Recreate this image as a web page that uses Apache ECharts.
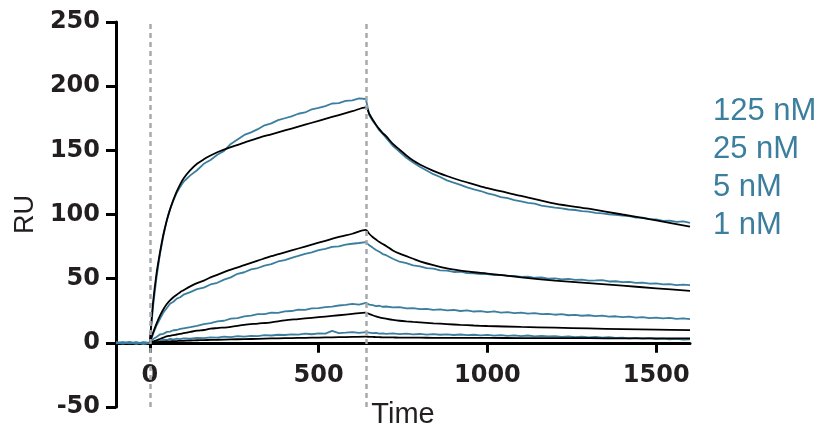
<!DOCTYPE html>
<html>
<head>
<meta charset="utf-8">
<script src="https://cdn.jsdelivr.net/npm/echarts@6/dist/echarts.min.js"></script>
<style>
  html, body { margin: 0; padding: 0; background: #fff; }
  #chart { width: 823px; height: 430px; }
</style>
</head>
<body>
<div id="chart"></div>
<script>
// concentrations shown in the legend
var concentrations = ['125 nM', '25 nM', '5 nM', '1 nM'];
var xTicks = [0, 500, 1000, 1500];
var injectionMarks = [0, 640];

// sensor data (RU), sampled time
var T = [-100,-80,-60,-40,-20,0,10,20,30,40,50,60,70,80,90,100,
  120,140,160,180,200,220,240,260,280,300,320,340,360,380,400,420,440,460,480,500,520,540,560,580,600,620,640,
  650,660,670,680,690,700,
  720,740,760,780,800,820,840,860,880,900,920,940,960,980,1000,1020,1040,1060,1080,1100,1120,1140,1160,1180,1200,
  1220,1240,1260,1280,1300,1320,1340,1360,1380,1400,1420,1440,1460,1480,1500,1520,1540,1560,1580,1600];

var ru125 = [0.4,-0.6,0.3,-0.8,0.5,0,29,51,69,83,95,104,111,117,121.5,125.5,
  130.5,134.5,139.5,142.5,146.5,149.5,155,158.5,162,164,166.5,169.5,171,173.5,175,176.5,178.5,179.5,182,183,184.5,186.5,186.8,188.5,189,190.5,190,
  177.5,173,169.5,165.5,162.8,159.7,
  153.5,148.8,144.2,140.5,137.2,134.3,131.4,129.2,126.6,124.8,123.1,121.2,119.6,118.3,116.4,115.3,113.6,112.7,111.2,110.3,109.1,108.4,106.9,106.2,105.3,
  104.8,103.9,103.5,102.6,102.2,101.3,100.9,100.2,99.8,99.1,98.7,97.6,97.5,96.4,96.2,95.1,95.3,94.2,94.6,93.4];

var ru25 = [-0.3,0.6,-0.5,0.2,-0.9,0,7,13.5,18.5,23.5,27,30.5,32,34.5,35.5,37.5,
  39.5,41.8,43,45.5,46.8,49.2,51,53.8,55,57.2,58.3,60.2,61.3,63.4,64.5,66.2,67.7,69.3,70.5,72.3,73.2,74.8,75.2,76.6,77.2,77.8,78.5,
  76,74.2,72.3,71,69.2,68.3,
  65.5,63.2,62.1,60.4,59.6,58.2,57.8,56.5,56.3,55.2,55.4,54.3,54.2,53.5,53.6,52.8,53.0,52.1,52.2,51.4,51.5,50.7,50.9,50.1,50.3,
  49.5,49.8,49.0,49.2,48.4,48.6,48.9,47.8,48.0,47.3,47.5,46.7,46.9,46.1,46.3,45.5,45.8,44.9,45.3,45.0];

var ru5 = [0.5,-0.2,0.7,-0.6,0.1,0,3,4.5,6.5,7,8.5,8.8,9.8,10,10.8,11.3,
  12.2,13.3,14.6,15.3,16.7,17.2,18.8,19.3,20.6,21.2,22.3,22.4,23.5,23.4,24.5,24.8,25.9,25.7,26.8,27,27.9,28.2,29.1,29.5,30.4,29.8,31.2,
  29.8,29.4,28.6,28.9,28.1,28.3,
  27.6,27.9,26.8,27.1,26.2,26.5,25.7,26.0,25.3,25.6,24.8,25.3,24.4,24.7,24.0,24.5,23.6,23.9,23.2,23.5,22.7,23.2,22.3,22.6,21.9,
  22.3,21.5,21.8,21.1,21.5,20.8,21.2,20.4,20.7,20.0,20.5,19.7,20.0,19.3,19.7,19.0,19.4,18.6,19.0,18.5];

var ru1 = [-0.4,0.3,-0.2,0.6,-0.7,0,0.8,1.6,1.4,2.4,2.2,3,2.6,3.3,2.9,3.4,
  3.3,3.9,3.6,4.3,4.1,4.8,4.4,5.2,4.9,5.5,5.3,6.0,5.7,6.3,6.1,6.6,6.4,7.1,6.7,7.4,7.2,9.3,7.6,7.9,8.4,7.8,8.3,
  7.9,7.5,7.8,7.2,7.4,7.0,
  7.3,6.8,7.1,6.6,6.9,6.4,6.8,6.3,6.6,6.1,6.5,6.0,6.3,5.8,6.2,5.6,6.0,5.5,5.8,5.3,5.7,5.1,5.5,5.0,5.3,
  4.7,5.1,4.5,4.8,4.3,4.6,4.0,4.4,3.8,4.1,3.5,3.9,3.2,3.6,3.0,3.3,2.7,3.1,2.5,2.8];

// fitted curves (RU)
var TF = [0,10,20,30,40,50,60,70,80,90,100,120,140,160,180,200,240,280,320,360,400,440,480,520,560,600,640,
  650,660,670,680,690,700,720,740,760,780,800,840,880,920,960,1000,1100,1200,1300,1400,1500,1600];

var fit125 = [0,32,54,70,84,95,104,111.5,118,123.5,128,134.5,139.5,143,146,148.5,152.5,156,159.5,162.5,165.5,168.5,171.5,174.5,177.5,180.5,183.5,
  178.5,174,170,166.5,163.5,161,155,150.5,146,142,139,134,130,126.5,123.5,120.5,114.5,108.5,104.5,100,95.5,90.5];
var fit25 = [0,8,15,21,26,30,33,35.5,37.5,39.5,41,44,46.5,48.5,51,53,57,60.5,64,67.5,70.5,73.5,76.5,79.5,82.5,85,88,
  85,82.5,80.5,78.5,77,75.5,72,69.5,67.5,65.5,63.5,60.5,58,56.3,55,54,51,48.5,46.5,44.5,42.5,40.5];
var fit5 = [0,1,2,3,4,5,5.5,6,6.5,7,7.5,8.5,9.5,10,11,11.5,12.5,14,15,16,17.5,18.5,19.5,20.5,21.5,22.5,23.5,
  22.5,21.5,20.6,19.9,19.3,18.8,17.9,17.2,16.7,16.3,16,15.2,14.6,14,13.5,13.1,12.4,11.8,11.2,10.7,10.3,9.9];
var fit1 = [0,0.3,0.5,0.7,0.9,1.1,1.2,1.3,1.4,1.5,1.6,1.8,2.0,2.1,2.3,2.4,2.7,2.9,3.1,3.4,3.6,3.8,4.0,4.2,4.4,4.6,4.8,
  4.7,4.6,4.5,4.4,4.3,4.3,4.2,4.1,4.1,4.0,4.0,3.9,3.9,3.8,3.8,3.8,3.7,3.6,3.6,3.5,3.5,3.4];

var blue = '#3b7e9e';
var ink = '#231f20';

function pairs(xs, ys) {
  return xs.map(function (x, i) { return [x, ys[i]]; });
}

var dataSets = [ru125, ru25, ru5, ru1];
var fitSets = [fit125, fit25, fit5, fit1];

var series = [];
dataSets.forEach(function (ys, i) {
  var s = {
    name: concentrations[i],
    type: 'line',
    data: pairs(T, ys),
    showSymbol: false,
    lineStyle: { color: blue, width: 1.8 },
    itemStyle: { color: blue },
    z: 2
  };
  if (i === 0) {
    // injection start / end
    s.markLine = {
      silent: true,
      symbol: 'none',
      label: { show: false },
      lineStyle: { color: '#a7a9ac', width: 2.5, type: [5, 4] },
      data: injectionMarks.map(function (v) { return { xAxis: v }; })
    };
  }
  series.push(s);
});
fitSets.forEach(function (ys, i) {
  series.push({
    name: 'fit ' + concentrations[i],
    type: 'line',
    data: pairs(TF, ys),
    showSymbol: false,
    smooth: 0.3,
    lineStyle: { color: '#000', width: 1.8 },
    itemStyle: { color: '#000' },
    z: 3
  });
});

var chart = echarts.init(document.getElementById('chart'), null, { renderer: 'canvas' });
chart.setOption({
  animation: false,
  backgroundColor: '#fff',
  grid: { left: 116, right: 133, top: 22, bottom: 23, outerBoundsMode: 'none', containLabel: false },
  legend: {
    data: concentrations,
    orient: 'vertical',
    left: 703,
    top: 91,
    icon: 'none',
    itemWidth: 0,
    itemGap: 7,
    selectedMode: false,
    textStyle: { color: blue, fontSize: 31, fontFamily: 'Liberation Sans' }
  },
  xAxis: {
    type: 'value',
    min: -100,
    max: 1600,
    interval: 100,
    name: 'Time',
    nameLocation: 'middle',
    nameGap: -7,
    nameTextStyle: { color: ink, fontSize: 29, fontFamily: 'Liberation Sans' },
    axisLine: { onZero: true, lineStyle: { color: '#000', width: 3 } },
    axisTick: { customValues: xTicks, length: 10, lineStyle: { color: '#000', width: 3 } },
    axisLabel: {
      customValues: xTicks,
      formatter: function (v) { return String(v); },
      margin: -43,
      color: ink,
      fontSize: 24,
      fontWeight: 'bold',
      fontFamily: 'DejaVu Sans'
    },
    splitLine: { show: false }
  },
  yAxis: {
    type: 'value',
    min: -50,
    max: 250,
    interval: 50,
    name: 'RU',
    nameLocation: 'middle',
    nameGap: 68,
    nameTextStyle: { color: ink, fontSize: 27, fontFamily: 'Liberation Sans' },
    axisLine: { show: true, onZero: false, lineStyle: { color: '#000', width: 3 } },
    axisTick: { show: true, length: 10, lineStyle: { color: '#000', width: 3 } },
    axisLabel: {
      formatter: function (v) { return String(v); },
      margin: 16,
      color: ink,
      fontSize: 24,
      fontWeight: 'bold',
      fontFamily: 'DejaVu Sans'
    },
    splitLine: { show: false }
  },
  series: series
});
</script>
</body>
</html>
